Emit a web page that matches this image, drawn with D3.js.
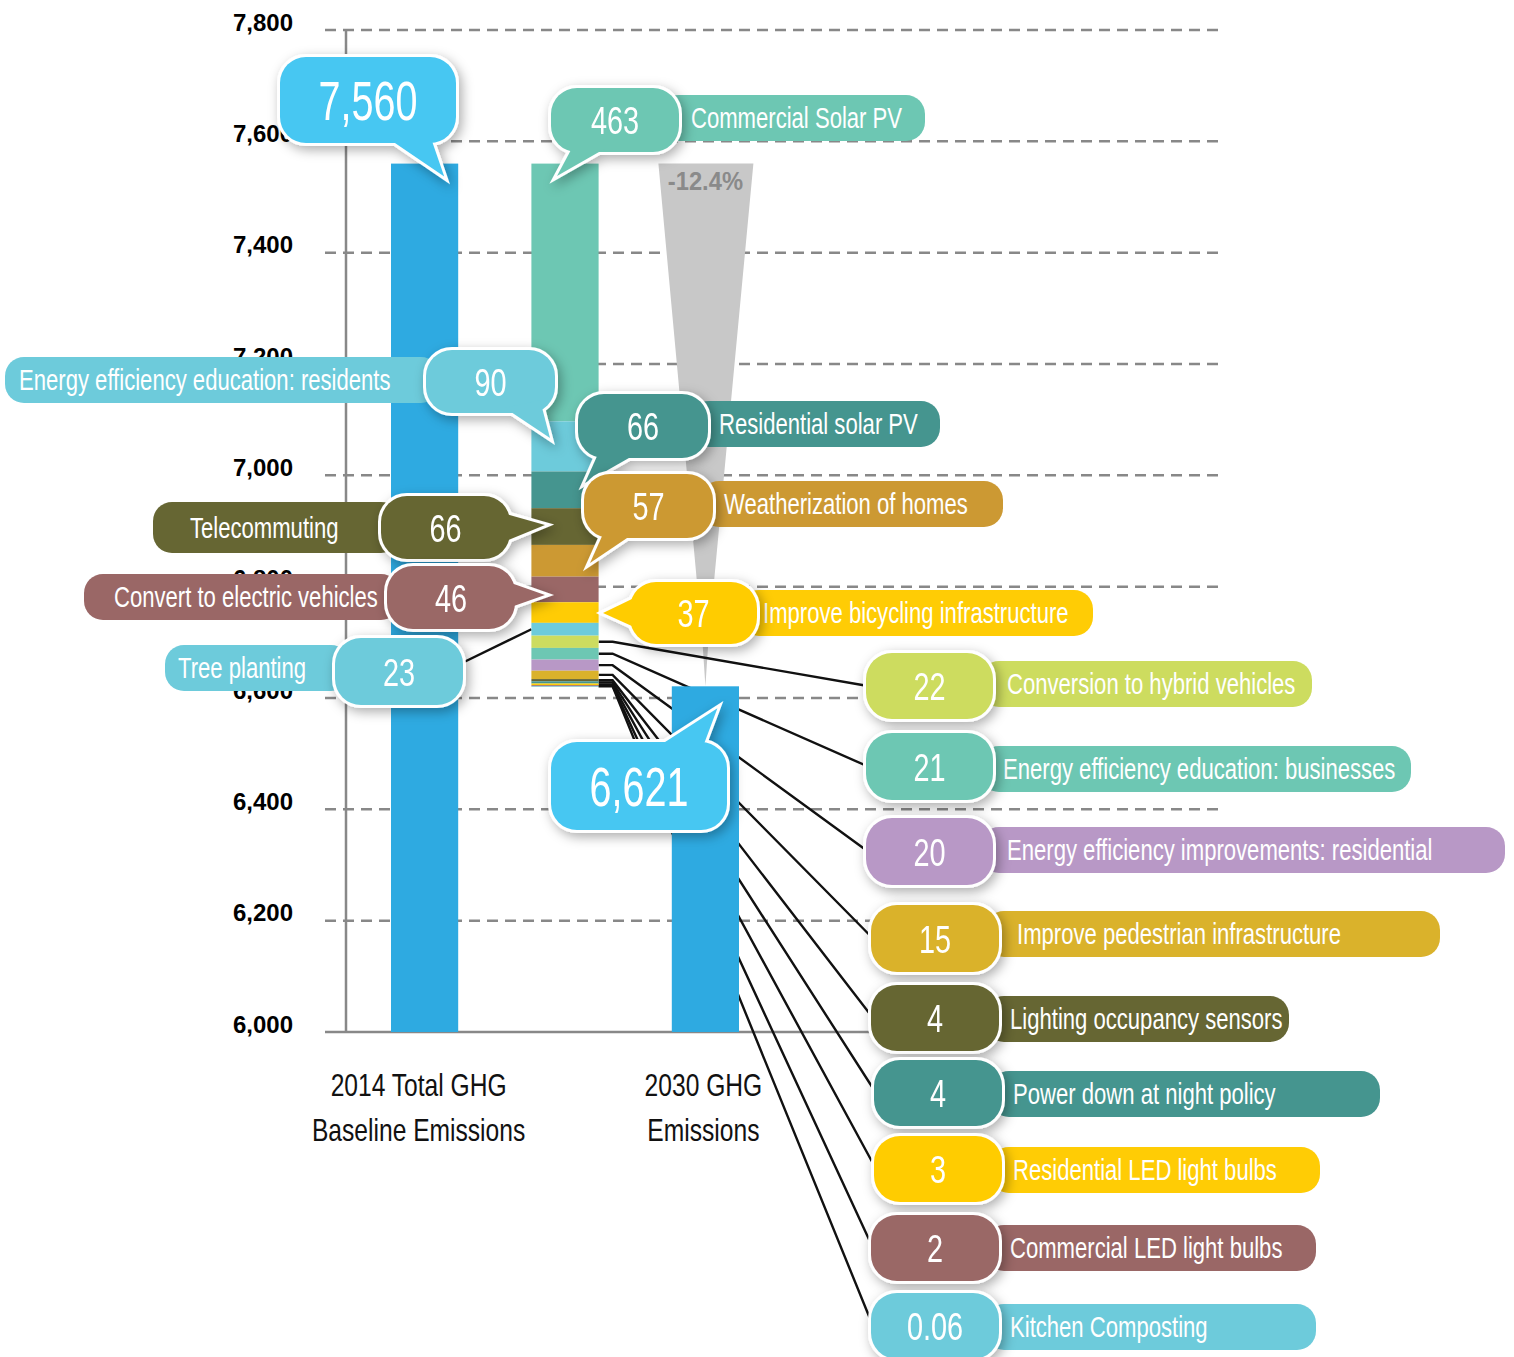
<!DOCTYPE html>
<html><head><meta charset="utf-8">
<script src="https://cdn.jsdelivr.net/npm/d3@7"></script>
<style>
body{margin:0;background:#fff;}
svg{display:block;}
text{font-family:"Liberation Sans",Arial,sans-serif;}
</style></head><body>
<svg id="chart" width="1514" height="1357"></svg>
<script>
// ---------------- DATA ----------------
const categories = ["2014", "measures", "2030"];
const categoryLabels = [["2014 Total GHG", "Baseline Emissions"], [], ["2030 GHG", "Emissions"]];
const baselineValue = 7560;
const targetValue = 6621;
const baselineLabel = "7,560";
const targetLabel = "6,621";
const changeLabel = "-12.4%";
const measureNames = [
  "Commercial Solar PV",
  "Energy efficiency education: residents",
  "Residential solar PV",
  "Telecommuting",
  "Weatherization of homes",
  "Convert to electric vehicles",
  "Improve bicycling infrastructure",
  "Tree planting",
  "Conversion to hybrid vehicles",
  "Energy efficiency education: businesses",
  "Energy efficiency improvements: residential",
  "Improve pedestrian infrastructure",
  "Lighting occupancy sensors",
  "Power down at night policy",
  "Residential LED light bulbs",
  "Commercial LED light bulbs",
  "Kitchen Composting"
];
const measureValues = [463, 90, 66, 66, 57, 46, 37, 23, 22, 21, 20, 15, 4, 4, 3, 2, 0.06];
const measureValueLabels = ["463","90","66","66","57","46","37","23","22","21","20","15","4","4","3","2","0.06"];
const yTickValues = [6000, 6200, 6400, 6600, 6800, 7000, 7200, 7400, 7600, 7800];

// ---------------- STYLE / LAYOUT ----------------
const palette = {
  teal: "#6DC7B3", sky: "#6DCBDB", dteal: "#45958F", olive: "#666633",
  ochre: "#CC9933", mauve: "#9A6766", yellow: "#FFCC05", lime: "#CDDC5F",
  lav: "#B898C6", gold: "#DAB22B"
};
const measureColors = ["teal","sky","dteal","olive","ochre","mauve","yellow","sky","lime","teal","lav","gold","olive","dteal","yellow","mauve","sky"].map(k => palette[k]);
const barBlue = "#2EAAE1", bubbleBlue = "#47C7F2";
const catLabelDx = [-6, 0, -2];

// annotation layout: bubble [x,y,w,h], tail polygon, pill [x0,x1,y,h], text x
const calloutLayout = [
  {bubble:[551,88,128,64], tail:[[572,148],[606,148],[557,176]], pill:[660,925,95,46], textX:691},
  {bubble:[426,350,129,63], tail:[[505,408],[540,400],[550,438]], pill:[5,440,357,46], textX:19},
  {bubble:[578,394,130,64], tail:[[598,454],[636,454],[585,483]], pill:[690,940,401,46], textX:719},
  {bubble:[381,496,129,63], tail:[[506,514],[506,541],[545,525]], pill:[153,400,502,51], textX:190},
  {bubble:[584,474,129,64], tail:[[603,534],[633,534],[590,563]], pill:[700,1003,481,46], textX:724},
  {bubble:[387,566,128,63], tail:[[511,583],[511,607],[545,595]], pill:[84,400,574,46], textX:114},
  {bubble:[630,582,127,62], tail:[[634,598],[634,627],[603,613]], pill:[740,1093,590,46], textX:763},
  {bubble:[335,638,128,67], leader:"left", pill:[165,350,645,46], textX:178},
  {bubble:[866,653,127,66], leader:"right", pill:[980,1312,661,46], textX:1007},
  {bubble:[866,733,127,67], leader:"right", pill:[980,1411,746,46], textX:1003},
  {bubble:[866,818,127,67], leader:"right", pill:[980,1505,827,46], textX:1007},
  {bubble:[871,905,128,67], leader:"right", pill:[985,1440,911,46], textX:1017},
  {bubble:[871,985,128,66], leader:"right", pill:[985,1289,996,46], textX:1010},
  {bubble:[874,1060,128,66], leader:"right", pill:[990,1380,1071,46], textX:1013},
  {bubble:[874,1136,128,66], leader:"right", pill:[990,1320,1147,46], textX:1013},
  {bubble:[871,1215,128,66], leader:"right", pill:[985,1316,1225,46], textX:1010},
  {bubble:[871,1293,128,66], leader:"right", pill:[985,1316,1304,46], textX:1010}
];

const svg = d3.select("#chart");

// condensed-font emulation: probe widths
function probeWidth(str, fs, weight) {
  const t = svg.append("text").attr("font-size", fs).attr("font-weight", weight || "normal").text(str);
  const w = t.node().getComputedTextLength(); t.remove(); return w;
}
const kText = 1.03 * 205 / probeWidth("Commercial Solar PV", 29);
const kNum = 47 / probeWidth("463", 38);
const kBig = 99 / probeWidth("7,560", 56);
const kCat = 176 / probeWidth("2014 Total GHG", 32);

// draw a horizontally condensed text at (tx, ty)
function ctext(parent, tx, ty, str, fs, k, anchor) {
  return parent.append("text")
    .attr("transform", `translate(${tx},${ty}) scale(${k},1)`)
    .attr("x", 0).attr("y", 0)
    .attr("text-anchor", anchor || "start")
    .attr("font-size", fs)
    .text(str);
}

// ---------------- SCALES ----------------
const y = d3.scaleLinear().domain([6000, 7800]).range([1032, 30]);
const x = d3.scaleBand().domain(categories).range([391, 739]).paddingInner(0.5214).paddingOuter(0);
const bw = x.bandwidth();

// defs: shadow
const defs = svg.append("defs");
const f = defs.append("filter").attr("id","shadow").attr("x","-30%").attr("y","-30%").attr("width","160%").attr("height","170%");
f.append("feDropShadow").attr("dx",3).attr("dy",4).attr("stdDeviation",6).attr("flood-color","#000").attr("flood-opacity",0.32);

// ---------------- GRID & AXIS ----------------
const grid = svg.append("g");
grid.selectAll("line.grid").data(yTickValues.filter(d => d > 6000)).join("line")
  .attr("class","grid")
  .attr("x1",325).attr("x2",1218)
  .attr("y1",d=>y(d)).attr("y2",d=>y(d))
  .attr("stroke","#888").attr("stroke-width",2.5).attr("stroke-dasharray","11,7");
grid.append("line").attr("x1",325).attr("x2",870).attr("y1",y(6000)).attr("y2",y(6000))
  .attr("stroke","#888").attr("stroke-width",2.5);
grid.append("line").attr("x1",346).attr("x2",346).attr("y1",y(7800)).attr("y2",y(6000))
  .attr("stroke","#888").attr("stroke-width",2.5);

const yAxis = d3.axisLeft(y).tickValues(yTickValues).tickFormat(d3.format(",")).tickSize(0).tickPadding(53);
const ax = svg.append("g").attr("transform","translate(346,0)").call(yAxis);
ax.select(".domain").remove();
ax.selectAll("text").attr("font-size",24).attr("font-weight","bold").attr("fill","#000")
  .attr("font-family","'Liberation Sans',Arial,sans-serif")
  .attr("dy",null).attr("y",0);

// ---------------- FUNNEL ----------------
const cx3 = x("2030") + bw/2;
const yTop = y(baselineValue), yBot = y(targetValue);
svg.append("path")
  .attr("d", `M${cx3-47},${yTop} L${cx3+48},${yTop} L${cx3+3},${yBot-45} L${cx3},${yBot} L${cx3-3},${yBot-45} Z`)
  .attr("fill","#C8C8C8");
ctext(svg, cx3, yTop+26, changeLabel, 25, 0.95, "middle")
  .attr("font-weight","bold").attr("fill","#8A8A8A");

// ---------------- STACK DATA ----------------
let run = baselineValue;
const segs = measureValues.map((v,i) => { const s = {i, top: run, bottom: run - v}; run -= v; return s; });
const sx0 = x("measures"), sx1 = sx0 + bw;

// ---------------- LEADER LINES ----------------
const leaders = svg.append("g").attr("fill","none").attr("stroke","#111").attr("stroke-width",2.4);
calloutLayout.forEach((c,i) => {
  if (!c.leader) return;
  const s = segs[i];
  const sy = y((s.top + s.bottom)/2);
  const [bx,by,bwid,bh] = c.bubble;
  if (c.leader === "right") {
    leaders.append("path").attr("d", `M${sx1},${sy} L${sx1+14},${sy} L${bx+2},${by+bh/2}`);
  } else {
    leaders.append("path").attr("d", `M${bx+bwid-2},${by+bh/2-8} L${sx0},${sy}`);
  }
});

// ---------------- BARS ----------------
svg.append("rect").attr("x",x("2014")).attr("width",bw).attr("y",y(baselineValue))
  .attr("height",y(6000)-y(baselineValue)).attr("fill",barBlue);
svg.append("g").selectAll("rect").data(segs).join("rect")
  .attr("x",sx0).attr("width",bw)
  .attr("y",d=>y(d.top)).attr("height",d=>Math.max(0.6, y(d.bottom)-y(d.top)))
  .attr("fill",d=>measureColors[d.i]);
svg.append("rect").attr("x",x("2030")).attr("width",bw).attr("y",y(targetValue))
  .attr("height",y(6000)-y(targetValue)).attr("fill",barBlue);

// category labels
categories.forEach((c,i) => {
  categoryLabels[i].forEach((l,k) => {
    ctext(svg, x(c)+bw/2 + catLabelDx[i], 1096 + k*45, l, 32, kCat, "middle").attr("fill","#111");
  });
});

// ---------------- CALLOUTS ----------------
function drawBubble(g, b, tail, fill, label, fs, k) {
  const [bx,by,w,h] = b;
  const r = Math.min(26, h/2.3);
  const gg = g.append("g").attr("filter","url(#shadow)");
  const shapes = [];
  shapes.push(sel => sel.append("rect").attr("x",bx).attr("y",by).attr("width",w).attr("height",h).attr("rx",r));
  if (tail) shapes.push(sel => sel.append("polygon").attr("points", tail.map(p=>p.join(",")).join(" ")).attr("stroke-linejoin","miter"));
  shapes.forEach(fn => fn(gg).attr("fill","#fff").attr("stroke","#fff").attr("stroke-width",6));
  shapes.forEach(fn => fn(gg).attr("fill",fill));
  ctext(gg, bx+w/2, by+h/2+fs*0.36, label, fs, k, "middle").attr("fill","#fff");
}

const callG = svg.append("g");
calloutLayout.forEach((c,i) => {
  const g = callG.append("g");
  const [px0,px1,py,ph] = c.pill;
  g.append("rect").attr("x",px0).attr("y",py).attr("width",px1-px0).attr("height",ph).attr("rx",19)
    .attr("fill",measureColors[i]);
  ctext(g, c.textX, py+ph/2+10, measureNames[i], 29, kText, "start").attr("fill","#fff");
  drawBubble(g, c.bubble, c.tail, measureColors[i], measureValueLabels[i], 39, kNum);
});

// total callouts
const x1r = x("2014") + bw;
drawBubble(svg, [280,57,176,86], [[392,141],[432,141],[x1r-14, yTop+13]], bubbleBlue, baselineLabel, 56, kBig);
drawBubble(svg, [551,742,176,88], [[662,744],[704,744],[cx3+12, yBot+22]], bubbleBlue, targetLabel, 56, kBig);
</script>
</body></html>
